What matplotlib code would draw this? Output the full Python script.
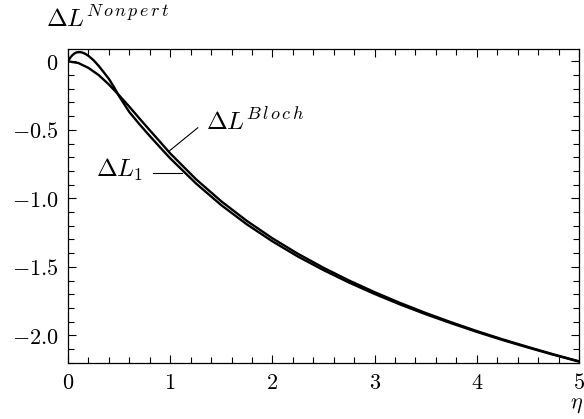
import matplotlib
matplotlib.use("Agg")
import matplotlib.pyplot as plt
from matplotlib.ticker import MultipleLocator

plt.rcParams["mathtext.fontset"] = "cm"
plt.rcParams["font.family"] = "serif"

# ---------- Daten ----------
eta_bloch = [0.0, 0.1, 0.2, 0.3, 0.4, 0.5, 0.6, 0.7, 0.8, 0.9, 1.0,
             1.25, 1.5, 1.75, 2.0, 2.25, 2.5, 2.75, 3.0, 3.25, 3.5,
             3.75, 4.0, 4.25, 4.5, 4.75, 5.0]
dl_bloch = [0.0, -0.012, -0.048, -0.100, -0.169, -0.248, -0.331, -0.418,
            -0.503, -0.587, -0.672, -0.859, -1.022, -1.165, -1.292, -1.405,
            -1.507, -1.600, -1.685, -1.764, -1.837, -1.905, -1.969, -2.029,
            -2.085, -2.139, -2.190]

eta_1 = [0.0, 0.02, 0.04, 0.06, 0.08, 0.10, 0.12, 0.14, 0.16, 0.18, 0.20,
         0.25, 0.30, 0.35, 0.40, 0.45, 0.50, 0.6, 0.7, 0.8, 0.9, 1.0,
         1.25, 1.5, 1.75, 2.0, 2.25, 2.5, 2.75, 3.0, 3.25, 3.5, 3.75,
         4.0, 4.25, 4.5, 4.75, 5.0]
dl_1 = [0.0, 0.025, 0.043, 0.056, 0.064, 0.067, 0.067, 0.064, 0.058, 0.050,
        0.040, 0.008, -0.033, -0.080, -0.128, -0.188, -0.255, -0.370, -0.460,
        -0.545, -0.627, -0.708, -0.890, -1.050, -1.190, -1.314, -1.425,
        -1.524, -1.615, -1.698, -1.775, -1.846, -1.912, -1.975, -2.034,
        -2.089, -2.142, -2.192]

x_ticks = [0, 1, 2, 3, 4, 5]
y_ticks = [0.0, -0.5, -1.0, -1.5, -2.0]
y_ticklabels = ["$0$", "$-0.5$", "$-1.0$", "$-1.5$", "$-2.0$"]

W, H = 584, 419

# ---------- Plot ----------
fig = plt.figure(figsize=(W / 100, H / 100), dpi=100)
ax = fig.add_axes([68 / W, 1 - 362.7 / H, 511 / W, 313.7 / H])

ax.plot(eta_bloch, dl_bloch, color="black", lw=1.7)
ax.plot(eta_1, dl_1, color="black", lw=1.7)

ax.set_xlim(0, 5)
ax.set_ylim(-2.2, 0.09)

ax.set_xticks(x_ticks)
ax.set_xticklabels([f"${t}$" for t in x_ticks])
ax.set_yticks(y_ticks)
ax.set_yticklabels(y_ticklabels)
ax.xaxis.set_minor_locator(MultipleLocator(0.2))
ax.yaxis.set_minor_locator(MultipleLocator(0.1))
ax.tick_params(which="both", direction="in", top=True, right=True,
               width=0.8, labelsize=16, pad=7)
ax.tick_params(which="major", length=6)
ax.tick_params(which="minor", length=4)
for s in ax.spines.values():
    s.set_linewidth(0.9)


def label_sup(px, py, base, sup, size=18, supsize=13, rise=10):
    # Basis-Text + Exponent, Position in Pixeln (von oben links)
    t = fig.text(px / W, 1 - py / H, base, fontsize=size, va="baseline")
    fig.canvas.draw()
    bb = t.get_window_extent()
    fig.text((bb.x1 + 1) / W, (H - py + rise) / H, sup, fontsize=supsize,
             va="baseline")


# ΔL^Nonpert oben links
label_sup(46, 26, r"$\Delta L$", r"$N\,o\,n\,p\,e\,r\,t$")

# η an der x-Achse
fig.text(577 / W, 1 - 404 / H, r"$\eta$", fontsize=16, ha="center", va="center")

# ΔL^Bloch mit Zeiger
label_sup(206, 129, r"$\Delta L$", r"$B\,l\,o\,c\,h$")
ax.plot([1.27, 0.99], [-0.485, -0.655], color="black", lw=0.8)

# ΔL_1 mit Zeiger
fig.text(143 / W, 1 - 177 / H, r"$\Delta L_1$", fontsize=18, ha="right",
         va="baseline")
ax.plot([0.83, 1.12], [-0.812, -0.812], color="black", lw=0.8)

fig.savefig("out.png", dpi=100)
